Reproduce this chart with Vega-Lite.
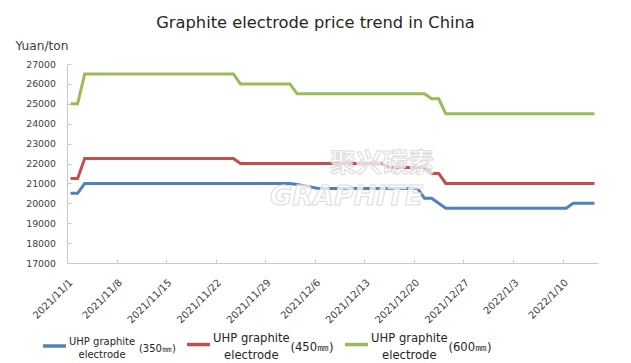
{
  "$schema": "https://vega.github.io/schema/vega-lite/v6.json",
  "width": 531,
  "height": 199,
  "autosize": {"type": "none"},
  "padding": {"left": 67, "top": 64, "right": 33, "bottom": 100},
  "background": "white",
  "config": {"view": {"stroke": null}},
  "title": {"text": "Graphite electrode price trend in China", "font": "DejaVu Sans", "fontSize": 16.3, "fontWeight": "normal", "color": "#262626", "anchor": "middle", "frame": "group", "dx": -17, "baseline": "alphabetic", "offset": -5},
  "encoding": {
    "x": {
      "field": "date", "type": "temporal", "timeUnit": "yearmonthdate", "bandPosition": 0.5,
      "scale": {"domain": [{"year": 2021, "month": 11, "date": 1}, {"year": 2022, "month": 1, "date": 15}]},
      "axis": {
        "title": null, "grid": false,
        "values": [
          {"year": 2021, "month": 11, "date": 1}, {"year": 2021, "month": 11, "date": 8},
          {"year": 2021, "month": 11, "date": 15}, {"year": 2021, "month": 11, "date": 22},
          {"year": 2021, "month": 11, "date": 29}, {"year": 2021, "month": 12, "date": 6},
          {"year": 2021, "month": 12, "date": 13}, {"year": 2021, "month": 12, "date": 20},
          {"year": 2021, "month": 12, "date": 27}, {"year": 2022, "month": 1, "date": 3},
          {"year": 2022, "month": 1, "date": 10}
        ],
        "format": "%Y/%-m/%-d", "labelAngle": -45, "labelAlign": "right", "labelBaseline": "top",
        "labelFont": "DejaVu Sans", "labelFontSize": 10, "labelColor": "#404040",
        "labelPadding": 18, "labelFlush": false, "labelOverlap": false,
        "domainColor": "#c8c8c8", "tickColor": "#c8c8c8", "tickSize": -4
      }
    },
    "y": {
      "field": "price", "type": "quantitative",
      "scale": {"domain": [17000, 27000], "nice": false, "zero": false},
      "axis": {
        "values": [17000, 18000, 19000, 20000, 21000, 22000, 23000, 24000, 25000, 26000, 27000],
        "format": "d", "grid": false, "labelOverlap": false,
        "labelFont": "DejaVu Sans", "labelFontSize": 9.4, "labelColor": "#404040",
        "labelPadding": 15.5, "domainColor": "#c8c8c8", "tickColor": "#c8c8c8", "tickSize": -4,
        "title": "Yuan/ton", "titleAngle": 0, "titleAlign": "left", "titleBaseline": "alphabetic",
        "titleX": -52, "titleY": -15, "titleFont": "DejaVu Sans", "titleFontSize": 12.2,
        "titleFontWeight": "normal", "titleColor": "#404040"
      }
    }
  },
  "layer": [
    {
      "data": {"values": [
        {"date": "2021/11/01", "s350": 20500, "s450": 21250, "s600": 25000},
        {"date": "2021/11/02", "s350": 20500, "s450": 21250, "s600": 25000},
        {"date": "2021/11/03", "s350": 21000, "s450": 22250, "s600": 26500},
        {"date": "2021/11/04", "s350": 21000, "s450": 22250, "s600": 26500},
        {"date": "2021/11/05", "s350": 21000, "s450": 22250, "s600": 26500},
        {"date": "2021/11/08", "s350": 21000, "s450": 22250, "s600": 26500},
        {"date": "2021/11/09", "s350": 21000, "s450": 22250, "s600": 26500},
        {"date": "2021/11/10", "s350": 21000, "s450": 22250, "s600": 26500},
        {"date": "2021/11/11", "s350": 21000, "s450": 22250, "s600": 26500},
        {"date": "2021/11/12", "s350": 21000, "s450": 22250, "s600": 26500},
        {"date": "2021/11/15", "s350": 21000, "s450": 22250, "s600": 26500},
        {"date": "2021/11/16", "s350": 21000, "s450": 22250, "s600": 26500},
        {"date": "2021/11/17", "s350": 21000, "s450": 22250, "s600": 26500},
        {"date": "2021/11/18", "s350": 21000, "s450": 22250, "s600": 26500},
        {"date": "2021/11/19", "s350": 21000, "s450": 22250, "s600": 26500},
        {"date": "2021/11/22", "s350": 21000, "s450": 22250, "s600": 26500},
        {"date": "2021/11/23", "s350": 21000, "s450": 22250, "s600": 26500},
        {"date": "2021/11/24", "s350": 21000, "s450": 22250, "s600": 26500},
        {"date": "2021/11/25", "s350": 21000, "s450": 22000, "s600": 26000},
        {"date": "2021/11/26", "s350": 21000, "s450": 22000, "s600": 26000},
        {"date": "2021/11/29", "s350": 21000, "s450": 22000, "s600": 26000},
        {"date": "2021/11/30", "s350": 21000, "s450": 22000, "s600": 26000},
        {"date": "2021/12/01", "s350": 21000, "s450": 22000, "s600": 26000},
        {"date": "2021/12/02", "s350": 21000, "s450": 22000, "s600": 26000},
        {"date": "2021/12/03", "s350": 20950, "s450": 22000, "s600": 25500},
        {"date": "2021/12/06", "s350": 20750, "s450": 22000, "s600": 25500},
        {"date": "2021/12/07", "s350": 20750, "s450": 22000, "s600": 25500},
        {"date": "2021/12/08", "s350": 20750, "s450": 22000, "s600": 25500},
        {"date": "2021/12/09", "s350": 20750, "s450": 22000, "s600": 25500},
        {"date": "2021/12/10", "s350": 20750, "s450": 22000, "s600": 25500},
        {"date": "2021/12/13", "s350": 20750, "s450": 22000, "s600": 25500},
        {"date": "2021/12/14", "s350": 20750, "s450": 22000, "s600": 25500},
        {"date": "2021/12/15", "s350": 20750, "s450": 22000, "s600": 25500},
        {"date": "2021/12/16", "s350": 20750, "s450": 21800, "s600": 25500},
        {"date": "2021/12/17", "s350": 20750, "s450": 21800, "s600": 25500},
        {"date": "2021/12/20", "s350": 20750, "s450": 21800, "s600": 25500},
        {"date": "2021/12/21", "s350": 20250, "s450": 21800, "s600": 25500},
        {"date": "2021/12/22", "s350": 20250, "s450": 21500, "s600": 25250},
        {"date": "2021/12/23", "s350": 20000, "s450": 21500, "s600": 25250},
        {"date": "2021/12/24", "s350": 19750, "s450": 21000, "s600": 24500},
        {"date": "2021/12/27", "s350": 19750, "s450": 21000, "s600": 24500},
        {"date": "2021/12/28", "s350": 19750, "s450": 21000, "s600": 24500},
        {"date": "2021/12/29", "s350": 19750, "s450": 21000, "s600": 24500},
        {"date": "2021/12/30", "s350": 19750, "s450": 21000, "s600": 24500},
        {"date": "2021/12/31", "s350": 19750, "s450": 21000, "s600": 24500},
        {"date": "2022/01/03", "s350": 19750, "s450": 21000, "s600": 24500},
        {"date": "2022/01/04", "s350": 19750, "s450": 21000, "s600": 24500},
        {"date": "2022/01/05", "s350": 19750, "s450": 21000, "s600": 24500},
        {"date": "2022/01/06", "s350": 19750, "s450": 21000, "s600": 24500},
        {"date": "2022/01/07", "s350": 19750, "s450": 21000, "s600": 24500},
        {"date": "2022/01/10", "s350": 19750, "s450": 21000, "s600": 24500},
        {"date": "2022/01/11", "s350": 20000, "s450": 21000, "s600": 24500},
        {"date": "2022/01/12", "s350": 20000, "s450": 21000, "s600": 24500},
        {"date": "2022/01/13", "s350": 20000, "s450": 21000, "s600": 24500},
        {"date": "2022/01/14", "s350": 20000, "s450": 21000, "s600": 24500}
      ]},
      "transform": [{"fold": ["s350", "s450", "s600"], "as": ["series", "price"]}],
      "mark": {"type": "line", "strokeWidth": 3},
      "encoding": {
        "color": {
          "field": "series", "type": "nominal",
          "scale": {"domain": ["s350", "s450", "s600"], "range": ["#4f81bd", "#c0504d", "#9bbb59"]},
          "legend": {
            "orient": "none", "legendX": -26, "legendY": 267, "direction": "horizontal", "columns": 3,
            "title": null, "padding": 0, "symbolType": "stroke", "symbolSize": 529, "symbolStrokeWidth": 3.5,
            "labelOffset": 1, "columnPadding": 4, "labelFont": "DejaVu Sans", "labelColor": "#262626",
            "labelLimit": 300, "labelFontSize": 11.6,
            "labelExpr": "datum.value == 's350' ? ['UHP graphite', '\u200b\u00a0\u00a0\u00a0\u00a0\u00a0\u00a0\u00a0\u00a0\u00a0\u00a0\u00a0\u00a0\u00a0\u00a0\u00a0\u00a0\u00a0\u00a0\u00a0\u00a0\u00a0\u00a0(350㎜)', '\u200b\u00a0\u00a0\u00a0electrode'] : datum.value == 's450' ? ['UHP graphite', '\u200b\u00a0\u00a0\u00a0\u00a0\u00a0\u00a0\u00a0\u00a0\u00a0\u00a0\u00a0\u00a0\u00a0\u00a0\u00a0\u00a0\u00a0\u00a0\u00a0\u00a0\u00a0(450㎜)', '\u200b\u00a0\u00a0\u00a0electrode'] : ['UHP graphite', '\u200b\u00a0\u00a0\u00a0\u00a0\u00a0\u00a0\u00a0\u00a0\u00a0\u00a0\u00a0\u00a0\u00a0\u00a0\u00a0\u00a0\u00a0\u00a0\u00a0\u00a0\u00a0(600㎜)', '\u200b\u00a0\u00a0\u00a0electrode']",
            "encode": {
              "labels": {"update": {
                "fontSize": {"signal": "datum.value == 's350' ? 10 : 11.6"},
                "lineHeight": {"signal": "datum.value == 's350' ? 6.65 : 8.85"},
                "dy": {"signal": "datum.value == 's350' ? -3.8 : -5.9"}
              }}
            }
          }
        }
      }
    },
    {
      "data": {"values": [
        {"date": "2021/12/15", "price": 22000, "mark": "聚兴碳素"}
      ]},
      "mark": {"type": "text", "font": "Noto Sans CJK SC", "fontWeight": "bold", "fontSize": 26, "align": "center", "baseline": "middle", "fill": "#ffffff", "fillOpacity": 0.75, "stroke": "#dcdcdc", "strokeWidth": 1},
      "encoding": {"text": {"field": "mark"}}
    },
    {
      "data": {"values": [
        {"date": "2021/12/10", "price": 20330, "mark": "GRAPHITE"}
      ]},
      "mark": {"type": "text", "font": "DejaVu Sans", "fontWeight": "bold", "fontStyle": "italic", "fontSize": 27, "align": "center", "baseline": "middle", "fill": "#ffffff", "fillOpacity": 0.75, "stroke": "#dcdcdc", "strokeWidth": 1},
      "encoding": {"text": {"field": "mark"}}
    }
  ]
}
